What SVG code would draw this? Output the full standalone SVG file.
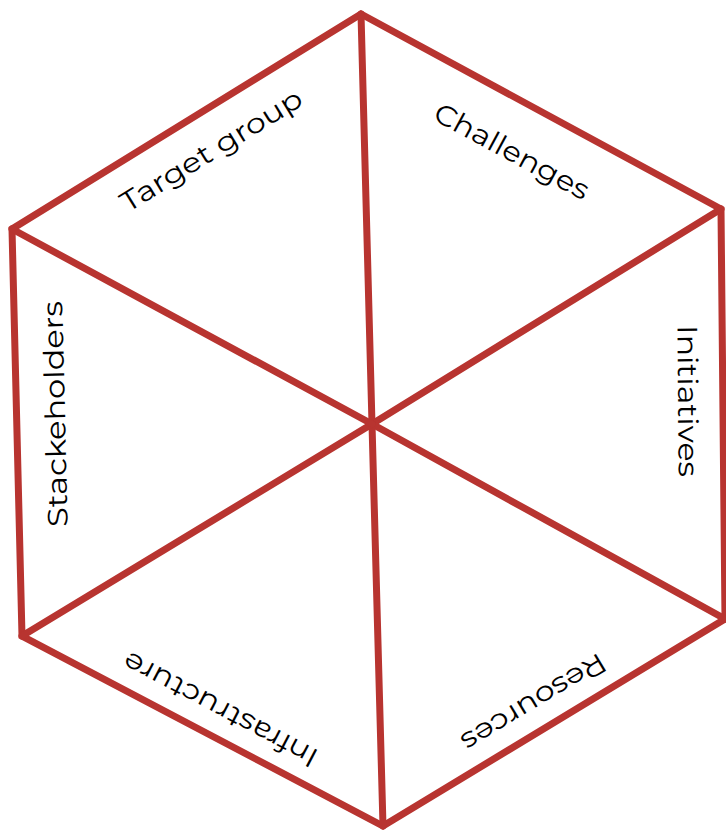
<svg xmlns="http://www.w3.org/2000/svg" width="726" height="831" viewBox="0 0 726 831">
  <style>
    .edge { stroke: #b83430; stroke-width: 7; fill: none; stroke-linecap: round; stroke-linejoin: miter; }
    .label { font-family: "Montserrat", "Open Sans", "Liberation Sans", sans-serif; font-size: 28px; fill: #000; text-anchor: middle; dominant-baseline: central; }
  </style>
  <rect width="726" height="831" fill="#ffffff"/>
  <g id="connectors">
    <!-- outer hexagon -->
    <polygon class="edge" points="361,14 721,209 725,619 383,826 22,636 12,229"/>
    <!-- spokes from the hub to every corner -->
    <line class="edge" x1="372" y1="424" x2="361" y2="14"/>
    <line class="edge" x1="372" y1="424" x2="721" y2="209"/>
    <line class="edge" x1="372" y1="424" x2="725" y2="619"/>
    <line class="edge" x1="372" y1="424" x2="383" y2="826"/>
    <line class="edge" x1="372" y1="424" x2="22" y2="636"/>
    <line class="edge" x1="372" y1="424" x2="12" y2="229"/>
  </g>
  <g id="target-group">
    <text class="label" transform="translate(211,150) rotate(-31.6)" textLength="208" lengthAdjust="spacingAndGlyphs">Target group</text>
  </g>
  <g id="challenges">
    <text class="label" transform="translate(512,151) rotate(28.4)" textLength="172" lengthAdjust="spacingAndGlyphs">Challenges</text>
  </g>
  <g id="initiatives">
    <text class="label" transform="translate(688,401) rotate(89.6)" textLength="152" lengthAdjust="spacingAndGlyphs">Initiatives</text>
  </g>
  <g id="resources">
    <text class="label" transform="translate(534,703) rotate(148.9)" textLength="164" lengthAdjust="spacingAndGlyphs">Resources</text>
  </g>
  <g id="infrastructure">
    <text class="label" transform="translate(220,710) rotate(207.8)" textLength="216" lengthAdjust="spacingAndGlyphs">Infrastructure</text>
  </g>
  <g id="stackeholders">
    <text class="label" transform="translate(55,414) rotate(-91.4)" textLength="226" lengthAdjust="spacingAndGlyphs">Stackeholders</text>
  </g>
</svg>
